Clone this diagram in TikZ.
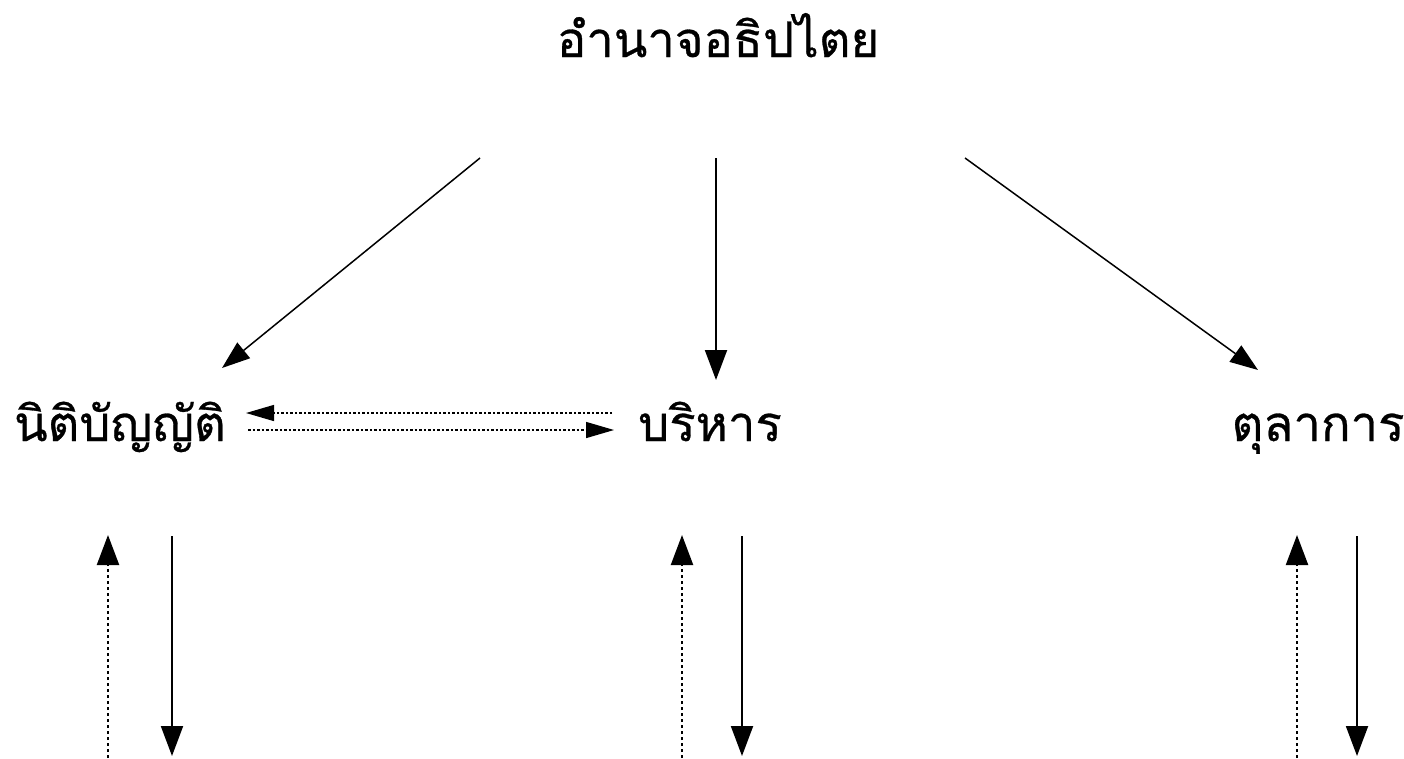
\documentclass[tikz,border=0pt]{standalone}
\usepackage{fontspec}
\newfontfamily\thaifont[Script=Thai,FakeBold=0.6]{Loma}
\usetikzlibrary{arrows.meta}
\begin{document}
\begin{tikzpicture}[x=1pt,y=-1pt,
  lbl/.style={font=\thaifont\fontsize{49}{54}\selectfont, inner sep=0pt, anchor=base},
  solidarr/.style={line width=2pt, -{Triangle[length=30pt,width=22pt]}},
  diagarr/.style={line width=1.5pt, -{Triangle[length=28pt,width=20pt]}},
  dotarr/.style={line width=2.2pt, dash pattern=on 3pt off 3pt, -{Triangle[length=30pt,width=22pt]}},
  harr/.style={line width=1.4pt, dash pattern=on 2.5pt off 2pt, -{Triangle[length=28pt,width=16pt]}},
]
\useasboundingbox (0,0) rectangle (1404,758);
\fill[white] (0,0) rectangle (1404,758);
% labels
\node[lbl] (title) at (718,57) {อำนาจอธิปไตย};
\node[lbl] (leg) at (120,441) {นิติบัญญัติ};
\node[lbl] (exe) at (710,441) {บริหาร};
\node[lbl] (jud) at (1318,441) {ตุลาการ};
% arrow anchors
\coordinate (tl) at (480,158);
\coordinate (tm) at (716,158);
\coordinate (tr) at (965,158);
\coordinate (hl) at (222,368);
\coordinate (hm) at (716,380);
\coordinate (hr) at (1258,370);
\draw[diagarr] (tl) -- (hl);
\draw[solidarr] (tm) -- (hm);
\draw[diagarr] (tr) -- (hr);
% horizontal
\coordinate (a1) at (612,413);
\coordinate (a2) at (246,413);
\coordinate (b1) at (248,430);
\coordinate (b2) at (614,430);
\draw[harr] (a1) -- (a2);
\draw[harr] (b1) -- (b2);
% vertical pairs
\foreach \n/\u/\d in {L/108/172, M/682/742, R/1297/1357}{
  \coordinate (up\n s) at (\u,758);
  \coordinate (up\n e) at (\u,535);
  \coordinate (dn\n s) at (\d,536);
  \coordinate (dn\n e) at (\d,756);
  \draw[dotarr] (up\n s) -- (up\n e);
  \draw[solidarr] (dn\n s) -- (dn\n e);
}
\end{tikzpicture}
\end{document}
